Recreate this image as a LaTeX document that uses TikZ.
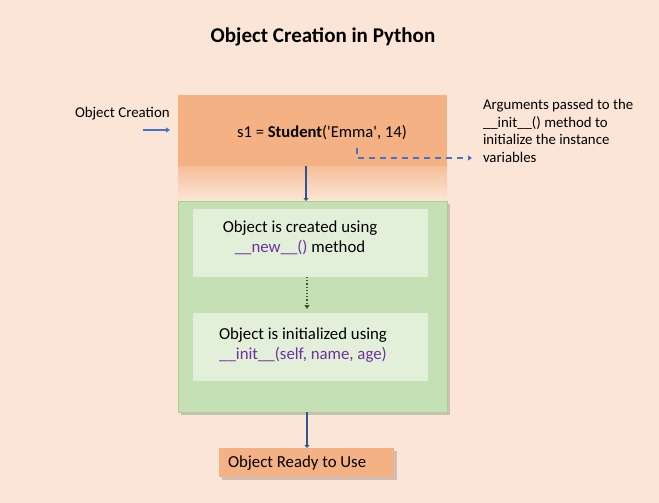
\documentclass[tikz,border=0pt]{standalone}
\usepackage{fontspec}
\setmainfont{Carlito}
\usetikzlibrary{shadows,arrows.meta}

\definecolor{bgpeach}{RGB}{251,229,214}
\definecolor{boxorange}{RGB}{244,177,131}
\definecolor{boxgreen}{RGB}{197,224,180}
\definecolor{greenline}{RGB}{169,209,142}
\definecolor{innergreen}{RGB}{226,240,217}
\definecolor{arrowblue}{RGB}{68,114,196}
\definecolor{darkblue}{RGB}{47,85,151}
\definecolor{codepurple}{RGB}{112,48,160}
\definecolor{dotgreen}{RGB}{56,87,35}

\newcommand{\code}[1]{\textcolor{codepurple}{#1}}

\tikzset{
  flowarrow/.style={draw=darkblue, line width=2.2pt, -{Triangle[length=3pt,width=5pt]}},
  shadowbox/.style={drop shadow={shadow xshift=3pt, shadow yshift=-3pt, opacity=0.3, fill=black!60}}
}

\begin{document}
\begin{tikzpicture}[x=1pt, y=-1pt, inner sep=0pt, outer sep=0pt]
      \useasboundingbox[fill=bgpeach] (0,0) rectangle (659,503);
      % heading
      \node[font=\fontsize{21}{25}\selectfont\bfseries] (title) at (323,37) {Object Creation in Python};
      % the call
      \shade[top color=boxorange!75!bgpeach, bottom color=bgpeach] (178,166) rectangle (447,200);
      \node[rectangle, fill=boxorange, minimum width=269pt, minimum height=71pt] (call) at (312.5,130.5) {};
      \node[font=\fontsize{16.6}{20}\selectfont] (callcode) at (322,133) {s1 = \textbf{Student}(\textquotesingle Emma\textquotesingle, 14)};
      \node[anchor=west, font=\fontsize{14.9}{18}\selectfont] (creation) at (75,114) {Object Creation};
      \coordinate (inleft) at (143,130);
      \coordinate (inright) at (170,130);
      \draw[draw=arrowblue, line width=1.3pt, -{Triangle[length=4pt,width=5pt]}] (inleft) -- (inright);
      \node[anchor=north west, align=left, font=\fontsize{14.8}{17.8}\selectfont] (argnote) at (483,99) {Arguments passed to the\\\_\_init\_\_() method to\\initialize the instance\\variables};
      \coordinate (argstart) at (357,148);
      \draw[draw=arrowblue, line width=1.3pt, dash pattern=on 6pt off 5pt, -{Triangle[length=4pt,width=5pt]}] (argstart) |- (472,158);
      % object creation steps
      \node[rectangle, fill=boxgreen, draw=greenline, line width=1pt, shadowbox, minimum width=269pt, minimum height=211pt] (steps) at (312.5,306.5) {};
      \node[rectangle, fill=innergreen, minimum width=235pt, minimum height=68pt] (newstep) at (310.5,243) {};
      \node[align=center, font=\fontsize{16.8}{20}\selectfont] (newtext) at (300,238) {Object is created using\\\code{\_\_new\_\_()} method};
      \node[rectangle, fill=innergreen, minimum width=235pt, minimum height=68pt] (initstep) at (310.5,347) {};
      \node[align=center, font=\fontsize{16.8}{20}\selectfont] (inittext) at (303,345) {Object is initialized using\\\code{\_\_init\_\_(self, name, age)}};
      \draw[draw=dotgreen, line width=1.2pt, dotted, -{Triangle[length=4pt,width=5pt]}] (newstep.south -| 307,0) -- ([yshift=4pt]initstep.north -| 307,0);
      % result
      \node[rectangle, fill=boxorange, shadowbox, minimum width=175pt, minimum height=29pt] (ready) at (306.5,462.5) {};
      \node[anchor=west, font=\fontsize{16.8}{20}\selectfont] (readytext) at (228,463) {Object Ready to Use};
      \path[flowarrow] (call.south -| 306,0) -- (steps.north -| 306,0);
      \path[flowarrow] (steps.south -| 307,0) -- (ready.north -| 307,0);
    \end{tikzpicture}
\end{document}
